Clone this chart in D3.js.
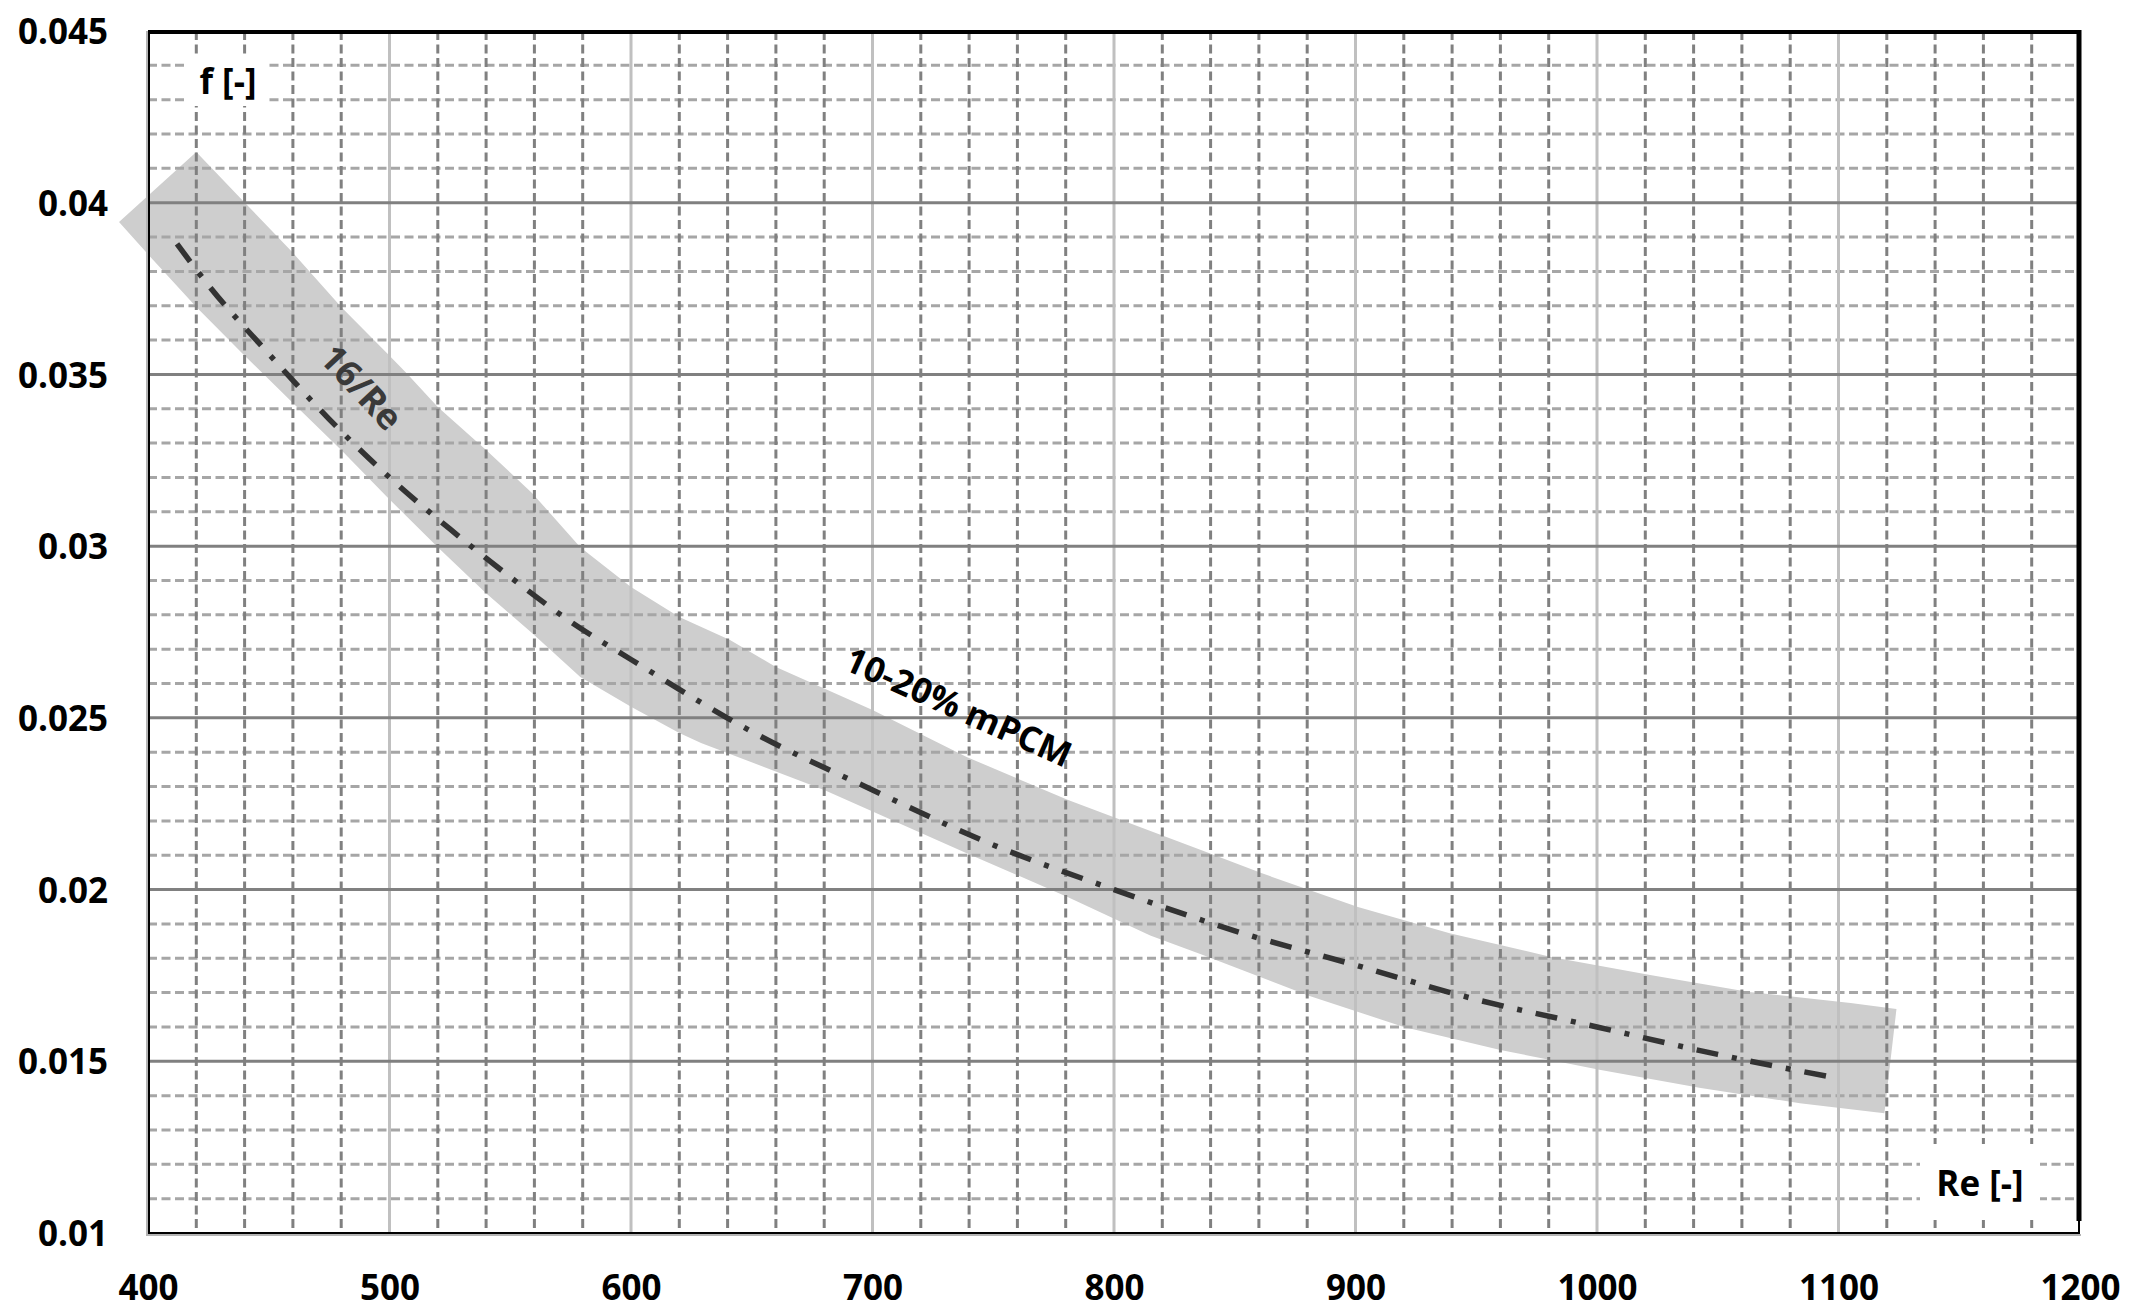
<!DOCTYPE html>
<html lang="en">
<head>
<meta charset="utf-8">
<title>f vs Re</title>
<style>
  body { margin: 0; background: #fff; }
  svg { display: block; }
  text { font-family: "Open Sans", "Noto Sans", sans-serif; font-weight: bold; }
  .tick text { font-size: 35px; fill: #000; }
</style>
</head>
<body>
<div id="chart"></div>
<script src="https://cdnjs.cloudflare.com/ajax/libs/d3/7.8.5/d3.min.js"></script>
<script>
// axis ticks
var xTicks = [400, 500, 600, 700, 800, 900, 1000, 1100, 1200];
var yTicks = [0.01, 0.015, 0.02, 0.025, 0.03, 0.035, 0.04, 0.045];
var yTickLabels = ["0.01", "0.015", "0.02", "0.025", "0.03", "0.035", "0.04", "0.045"];

// 16/Re curve
var lineRe = [412, 425, 450, 475, 500, 525, 550, 575, 600, 650, 700, 750, 800, 850, 900, 950, 1000, 1050, 1100];
var lineF = [0.0388, 0.0376, 0.0356, 0.0337, 0.0320, 0.0305, 0.0291, 0.0278, 0.0267, 0.0246, 0.0229, 0.0213,
             0.0200, 0.0188, 0.0178, 0.0168, 0.0160, 0.0152, 0.0145];

// 10-20% mPCM band, upper edge
var upperRe = [420, 439, 460, 480, 499, 507, 520, 540, 559, 579, 600, 620, 641, 660, 700, 739, 781, 836, 861,
               901, 939, 981, 1022, 1063, 1105, 1124];
var upperF = [0.04148, 0.04008, 0.03854, 0.03696, 0.03562, 0.03504, 0.03405, 0.03280, 0.03155, 0.02997, 0.02881,
              0.02794, 0.02727, 0.02648, 0.02523, 0.02386, 0.02261, 0.02115, 0.02048, 0.01949, 0.01873, 0.01804,
              0.01751, 0.01702, 0.01670, 0.01652];
// lower edge
var lowerRe = [388, 401, 420, 439, 460, 480, 499, 520, 540, 559, 579, 600, 620, 629, 680, 739, 781, 815, 836,
               881, 920, 960, 1001, 1043, 1084, 1119];
var lowerF = [0.03944, 0.03842, 0.03696, 0.03562, 0.03417, 0.03280, 0.03143, 0.02997, 0.02863, 0.02747, 0.02619,
              0.02532, 0.02456, 0.02427, 0.02290, 0.02106, 0.01978, 0.01866, 0.01812, 0.01690, 0.01600, 0.01533,
              0.01475, 0.01422, 0.01378, 0.01349];

var width = 2131, height = 1314;
var margin = {left: 148, right: 51, top: 31, bottom: 81};

var svg = d3.select("#chart").append("svg")
    .attr("width", width)
    .attr("height", height);

var x = d3.scaleLinear().domain([400, 1200]).range([margin.left, width - margin.right]);
var y = d3.scaleLinear().domain([0.01, 0.045]).range([height - margin.bottom, margin.top]);

var x0 = x.range()[0], x1 = x.range()[1], y0 = y.range()[1], y1 = y.range()[0];

// band (drawn first, grid goes over it)
var band = upperRe.map(function(r, i) { return [r, upperF[i]]; })
    .concat(lowerRe.map(function(r, i) { return [r, lowerF[i]]; }).reverse());

var bandLine = d3.line().x(function(d) { return x(d[0]); }).y(function(d) { return y(d[1]); });
svg.append("path")
    .attr("d", bandLine(band) + "Z")
    .attr("fill", "#cecece");

var grid = svg.append("g");

// minor grid
var xMinor = d3.range(400, 1201, 20).filter(function(v) { return v % 100 !== 0; });
var yMinor = d3.range(10, 46, 1).map(function(v) { return v / 1000; })
    .filter(function(v) { return Math.round(v * 1000) % 5 !== 0; });

grid.selectAll(".hminor").data(yMinor).enter().append("line")
    .attr("x1", x0).attr("x2", x1)
    .attr("y1", function(d) { return y(d); }).attr("y2", function(d) { return y(d); })
    .attr("stroke", "#a6a6a6").attr("stroke-width", 3).attr("stroke-dasharray", "9,4.5");

grid.selectAll(".vminor").data(xMinor).enter().append("line")
    .attr("y1", y0).attr("y2", y1)
    .attr("x1", function(d) { return x(d); }).attr("x2", function(d) { return x(d); })
    .attr("stroke", "#808080").attr("stroke-width", 3).attr("stroke-dasharray", "9,4.5");

// major grid
grid.selectAll(".vmajor").data(xTicks.slice(1, -1)).enter().append("line")
    .attr("y1", y0).attr("y2", y1)
    .attr("x1", function(d) { return x(d); }).attr("x2", function(d) { return x(d); })
    .attr("stroke", "#c0c0c0").attr("stroke-width", 3);

grid.selectAll(".hmajor").data(yTicks.slice(1, -1)).enter().append("line")
    .attr("x1", x0).attr("x2", x1)
    .attr("y1", function(d) { return y(d); }).attr("y2", function(d) { return y(d); })
    .attr("stroke", "#808080").attr("stroke-width", 3);

// 16/Re line
svg.append("path")
    .datum(lineRe.map(function(r, i) { return [r, lineF[i]]; }))
    .attr("d", d3.line().curve(d3.curveMonotoneX)
        .x(function(d) { return x(d[0]); }).y(function(d) { return y(d[1]); }))
    .attr("fill", "none")
    .attr("stroke", "#333")
    .attr("stroke-width", 5.5)
    .attr("stroke-dasharray", "22,14,5,14");

// plot frame
svg.append("line").attr("x1", x0 - 1).attr("x2", x0 - 1).attr("y1", y0).attr("y2", y1 + 3)
    .attr("stroke", "#b4b4b4").attr("stroke-width", 2);
svg.append("line").attr("x1", x0 - 1).attr("x2", x1 + 1).attr("y1", y1 + 2).attr("y2", y1 + 2)
    .attr("stroke", "#b4b4b4").attr("stroke-width", 2);
svg.append("rect")
    .attr("x", x0 + 1).attr("y", y0).attr("width", x1 - x0 - 2).attr("height", y1 - y0)
    .attr("fill", "none").attr("stroke", "#000").attr("stroke-width", 2);
svg.append("line").attr("x1", x0).attr("x2", x1 + 1).attr("y1", y0 + 1).attr("y2", y0 + 1)
    .attr("stroke", "#000").attr("stroke-width", 4);
svg.append("line").attr("x1", x1 - 1).attr("x2", x1 - 1).attr("y1", y0 - 1).attr("y2", y1 - 12)
    .attr("stroke", "#000").attr("stroke-width", 5);

// axes
var yAxis = d3.axisLeft(y).tickValues(yTicks).tickSize(0).tickPadding(40)
    .tickFormat(function(d, i) { return yTickLabels[i]; });
svg.append("g").attr("transform", "translate(" + x0 + ",0)").call(yAxis)
    .call(function(g) { g.select(".domain").remove(); })
    .selectAll("text").attr("dy", "0.36em");

var xAxis = d3.axisBottom(x).tickValues(xTicks).tickSize(0).tickPadding(42).tickFormat(d3.format("d"));
svg.append("g").attr("transform", "translate(0," + y1 + ")").call(xAxis)
    .call(function(g) { g.select(".domain").remove(); });
svg.selectAll(".tick text").style("font-family", "'Open Sans', sans-serif").style("font-weight", "bold");

// axis titles with white boxes
function boxedLabel(txt, cx, cy, bw, bh) {
  svg.append("rect").attr("x", cx - bw / 2).attr("y", cy - bh / 2).attr("width", bw).attr("height", bh).attr("fill", "#fff");
  svg.append("text").attr("x", cx).attr("y", cy).attr("text-anchor", "middle")
    .attr("dominant-baseline", "central").attr("font-size", 35).attr("fill", "#000").text(txt);
}
boxedLabel("f [-]", 228, 80, 80, 52);
boxedLabel("Re [-]", 1980, 1182, 120, 76);

// curve labels
svg.append("text")
    .attr("transform", "translate(362,387) rotate(47)")
    .attr("text-anchor", "middle").attr("dominant-baseline", "central")
    .attr("font-size", 36).attr("fill", "#3a3a3a").text("16/Re");

svg.append("text")
    .attr("transform", "translate(959,706) rotate(24)")
    .attr("text-anchor", "middle").attr("dominant-baseline", "central")
    .attr("font-size", 35).attr("fill", "#000").text("10-20% mPCM");
</script>
</body>
</html>
